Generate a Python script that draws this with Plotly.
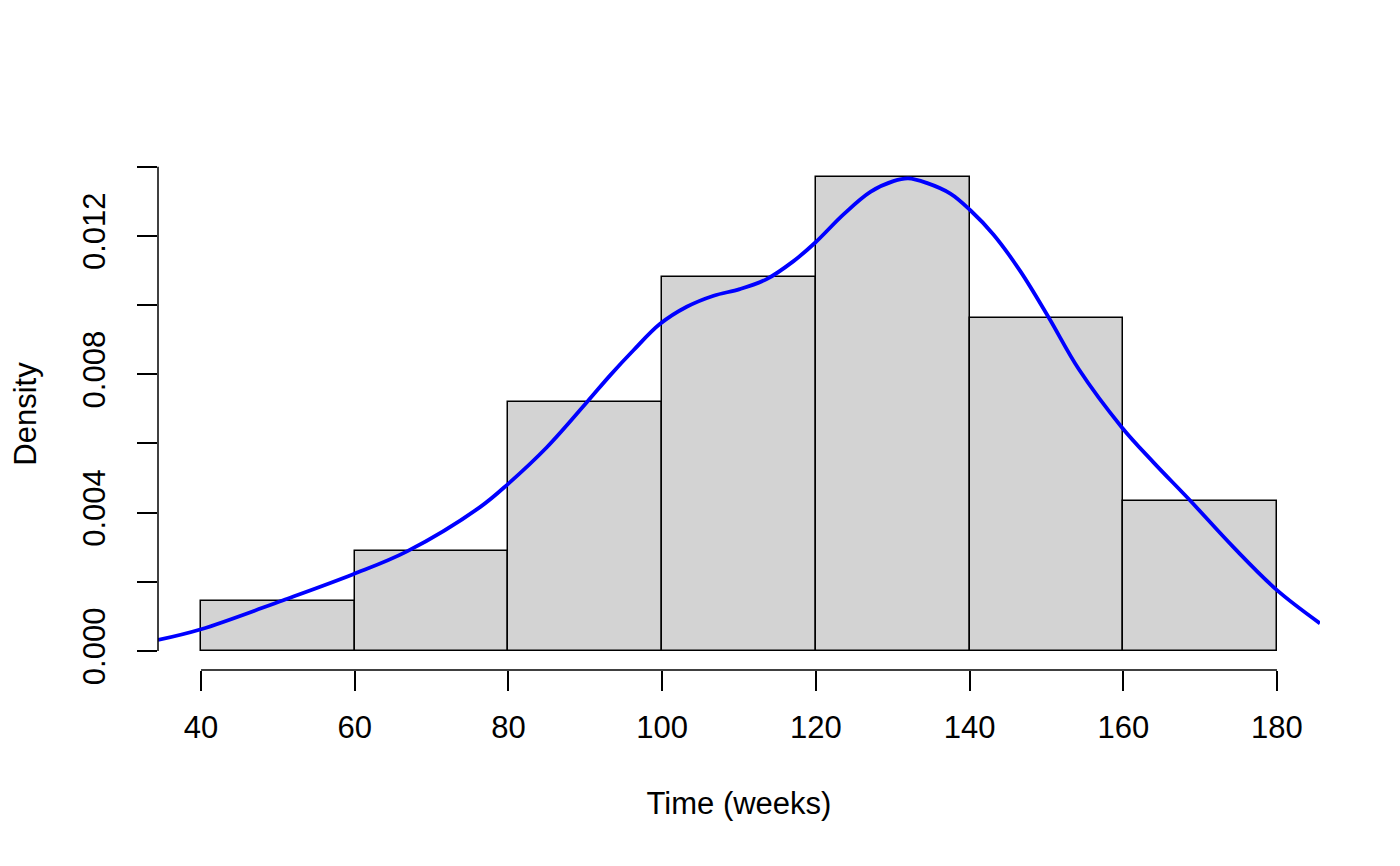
import plotly.graph_objects as go

# Histogram (density scale), bins of 20 weeks
bin_left = [40, 60, 80, 100, 120, 140, 160]
bin_width = 20
counts = [6, 12, 30, 45, 57, 40, 18]
n_total = sum(counts)
densities = [c / (n_total * bin_width) for c in counts]

# Kernel density curve
kde_x = [34.4, 40, 50.7, 59.8, 66.8, 76.3, 80, 85, 90.2, 93.2, 96.3, 99.7,
         103.2, 106.7, 110.1, 113.6, 117.1, 119.9, 123.6, 127.1, 130.1, 132,
         134.4, 137.5, 140.1, 143.1, 146.6, 150.3, 154.2, 159.8, 163.9, 168.7,
         174.3, 180, 185.6]
kde_y = [0.00032, 0.00063, 0.00147, 0.00222, 0.00288, 0.00416, 0.00484, 0.00589,
         0.00719, 0.00796, 0.0087, 0.00945, 0.00995, 0.01027, 0.01046, 0.01075,
         0.01127, 0.0118, 0.01262, 0.01327, 0.01358, 0.01366, 0.01353, 0.01322,
         0.01274, 0.01204, 0.01098, 0.00964, 0.00815, 0.00647, 0.00546, 0.00435,
         0.00301, 0.00176, 0.0008]

x_ticks = [40, 60, 80, 100, 120, 140, 160, 180]
y_ticks = [0, 0.002, 0.004, 0.006, 0.008, 0.010, 0.012, 0.014]
y_tick_text = ["0.000", "", "0.004", "", "0.008", "", "0.012", ""]

FONT = "Liberation Sans, Arial, Helvetica, sans-serif"
FS = 31

centers = [b + bin_width / 2 for b in bin_left]

fig = go.Figure()
fig.add_trace(go.Bar(
    x=centers, y=densities, width=[bin_width] * len(centers),
    marker=dict(color="#D3D3D3", line=dict(color="black", width=1.5)),
    hoverinfo="x+y", showlegend=False,
))
fig.add_trace(go.Scatter(
    x=kde_x, y=kde_y, mode="lines",
    line=dict(color="#0000FF", width=3.8, shape="spline", smoothing=1.0),
    showlegend=False, cliponaxis=True,
))

xmin, xmax = bin_left[0], bin_left[-1] + bin_width
xpad = (xmax - xmin) * 0.04
ymax = max(densities)
ypad = ymax * 0.04

# axis lines spanning only the tick range (R style)
fig.add_shape(type="line", xref="x", yref="paper", x0=xmin, x1=xmax, y0=0, y1=0,
              line=dict(color="black", width=1.5))
fig.add_shape(type="line", xref="paper", yref="y", x0=0, x1=0, y0=y_ticks[0], y1=y_ticks[-1],
              line=dict(color="black", width=1.5))

fig.update_layout(
    width=1392, height=858,
    margin=dict(l=150, r=80, t=150, b=196, autoexpand=False),
    paper_bgcolor="white", plot_bgcolor="white",
    bargap=0,
    font=dict(family=FONT, size=FS, color="black"),
    xaxis=dict(
        range=[xmin - xpad, xmax + xpad],
        showgrid=False, zeroline=False, showline=False,
        tickmode="array", tickvals=x_ticks, ticktext=[str(v) for v in x_ticks],
        ticks="outside", ticklen=20, tickwidth=1.5, tickcolor="black",
        ticklabelstandoff=10,
        tickfont=dict(family=FONT, size=FS, color="black"),
        title=dict(text="Time (weeks)", font=dict(family=FONT, size=FS), standoff=48),
    ),
    yaxis=dict(
        range=[-ypad, ymax + ypad],
        showgrid=False, zeroline=False, showline=False,
        tickmode="array", tickvals=y_ticks, ticktext=y_tick_text,
        tickangle=-90,
        ticks="outside", ticklen=20, tickwidth=1.5, tickcolor="black",
        ticklabelstandoff=20,
        tickfont=dict(family=FONT, size=FS, color="black"),
        title=dict(text="Density", font=dict(family=FONT, size=FS), standoff=38),
    ),
)

fig.write_html("out.html")
